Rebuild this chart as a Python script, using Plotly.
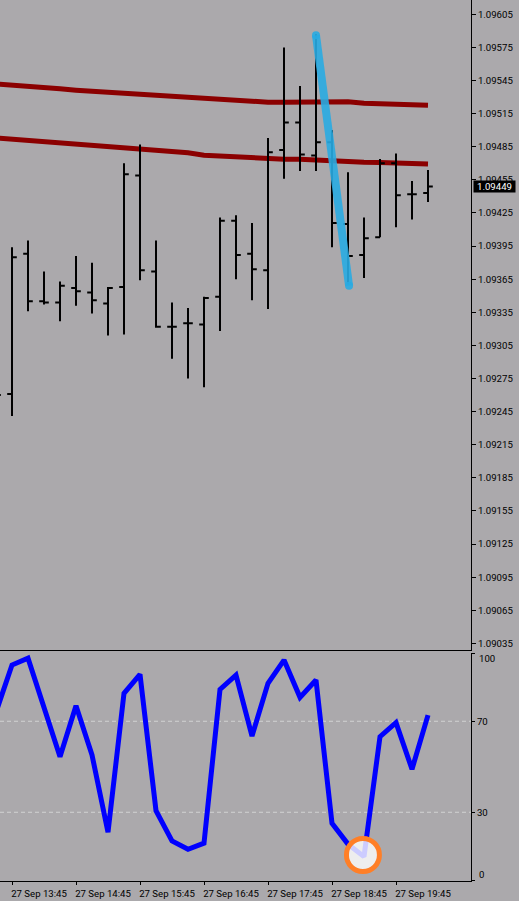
import pandas as pd
import plotly.graph_objects as go

BASE = 1.09
times = pd.date_range("2019-09-27 13:30", periods=28, freq="15min")
open_pts = [290, 261, 388, 345, 344, 357, 353, 343, 358, 459, 372, 322, 325, 324, 349, 418, 388, 373, 482, 507, 477, 489, 415, 387, 403, 470, 442, 443]
high_pts = [300, 394, 400, 372, 363, 386, 380, 358, 470, 487, 400, 344, 339, 349, 421, 423, 416, 493, 575, 540, 587, 500, 462, 421, 474, 479, 454, 464]
low_pts = [250, 241, 336, 342, 327, 341, 334, 314, 315, 364, 321, 293, 275, 267, 318, 365, 346, 338, 456, 463, 463, 394, 360, 366, 403, 412, 419, 435]
close_pts = [260, 385, 345, 344, 359, 354, 346, 357, 460, 373, 322, 322, 325, 348, 418, 387, 374, 480, 507, 478, 489, 416, 386, 402, 470, 441, 442, 449]
ma_slow_pts = [542.0, 541.1, 539.9, 539.0, 537.5, 536.3, 535.4, 533.8, 533.6, 532.7, 531.8, 530.9, 529.0, 528.1, 527.2, 526.3, 525.4, 525.4, 525.4, 525.4, 526.3, 526.3, 525.7, 524.5, 524.3, 523.6, 523.4, 522.7]
ma_fast_pts = [493.1, 491.9, 491.0, 490.1, 489.4, 487.9, 486.5, 485.2, 483.7, 482.8, 481.9, 481.0, 479.5, 477.4, 476.5, 475.6, 474.7, 473.8, 473.8, 473.8, 472.9, 472.2, 471.6, 471.0, 470.7, 470.1, 470.0, 469.3]
rsi = [74, 94.7, 97.7, 76.4, 54.4, 76.8, 55.2, 21.2, 82.3, 90.6, 30.7, 17.4, 13.7, 16.4, 84, 90.3, 63.5, 86.7, 96.9, 80.5, 88.1, 25.1, 16, 10.5, 63.2, 69.4, 48.9, 72.7]
stroke_times = ["2019-09-27 18:30", "2019-09-27 19:01"]
stroke_pts = [586, 359]
circle_time = ["2019-09-27 19:14"]
circle_value = [11.2]
levels = [70, 30]
price_ticks = [1.09035 + 0.0003 * i for i in range(20)]
time_ticks = pd.date_range("2019-09-27 13:45", periods=7, freq="60min")
last_price = 1.09449


def px(points):
    return [BASE + p * 1e-5 for p in points]


BG = "#ABA9AC"
W, H = 519, 901
FONT = dict(family="Roboto, Liberation Sans, sans-serif", size=9.6, color="#000000")
x_range = ["2019-09-27 13:33:45", "2019-09-27 20:55:19"]

fig = go.Figure()
# moving averages under the bars
for vals in (ma_slow_pts, ma_fast_pts):
    fig.add_trace(go.Scatter(x=times, y=px(vals), mode="lines", xaxis="x", yaxis="y",
                             line=dict(color="#8B0000", width=5), showlegend=False))
fig.add_trace(go.Ohlc(x=times, open=px(open_pts), high=px(high_pts), low=px(low_pts), close=px(close_pts),
                      xaxis="x", yaxis="y3", tickwidth=0.3,
                      increasing=dict(line=dict(color="#000000", width=2)),
                      decreasing=dict(line=dict(color="#000000", width=2)), showlegend=False))
fig.add_trace(go.Scatter(x=stroke_times, y=px(stroke_pts), mode="lines+markers", xaxis="x", yaxis="y3",
                         line=dict(color="rgba(41,171,226,0.9)", width=8),
                         marker=dict(size=8, color="rgba(41,171,226,0.9)"), showlegend=False))
for lv in levels:
    fig.add_trace(go.Scatter(x=x_range, y=[lv, lv], mode="lines", xaxis="x2", yaxis="y2",
                             line=dict(color="#D2D2D2", width=1, dash="4px,3px"), showlegend=False))
fig.add_trace(go.Scatter(x=times, y=rsi, mode="lines", xaxis="x2", yaxis="y2",
                         line=dict(color="#0000FF", width=5), showlegend=False))
fig.add_trace(go.Scatter(x=circle_time, y=circle_value, mode="markers", xaxis="x2", yaxis="y2",
                         marker=dict(size=33, color="rgba(255,255,255,0.8)",
                                     line=dict(color="#FF7F27", width=5)), showlegend=False))

yr = [1.09029, 1.09618]
price_axis = dict(domain=[1 - 650 / H, 1], range=yr, side="right", anchor="x", automargin=False,
                  tickmode="array", tickvals=price_ticks, tickformat=".5f", ticks="outside",
                  ticklen=4, tickcolor="#000", showgrid=False, zeroline=False, showline=True,
                  linecolor="#000", linewidth=1, tickfont=FONT)
fig.update_layout(
    width=W, height=H, margin=dict(l=0, r=0, t=0, b=0), autosize=False,
    paper_bgcolor=BG, plot_bgcolor=BG, showlegend=False,
    xaxis=dict(domain=[0, 471 / W], range=x_range, anchor="y", showticklabels=False, ticks="", automargin=False,
               showgrid=False, zeroline=False, rangeslider=dict(visible=False), showline=True,
               linecolor="#000", linewidth=1),
    xaxis2=dict(domain=[0, 471 / W], range=x_range, anchor="y2", tickmode="array", tickvals=list(time_ticks),
                tickformat="%d %b %H:%M", ticks="outside", ticklen=3, tickcolor="#000", showgrid=False, automargin=False,
                zeroline=False, showline=True, linecolor="#000", linewidth=1, tickfont=FONT, tickangle=0,
                ticklabelshift=27, ticklabelstandoff=1),
    yaxis=price_axis,
    yaxis3=dict(overlaying="y", range=yr, domain=price_axis["domain"], side="right", anchor="x", automargin=False,
                showticklabels=False, ticks="", showgrid=False, zeroline=False, showline=False),
    yaxis2=dict(domain=[1 - 880.5 / H, 1 - 653 / H], range=[0, 100], side="right", anchor="x2", automargin=False,
                tickmode="array", tickvals=[0, 30, 70, 100], ticktext=["", "30", "70", ""], ticks="outside",
                ticklen=3, tickcolor="#000", showgrid=False, zeroline=False, showline=True,
                linecolor="#000", linewidth=1, tickfont=FONT),
    annotations=[
        dict(xref="paper", yref="y", x=473 / W, y=last_price, text="1.09449", xanchor="left", yanchor="middle",
             width=41, height=11, align="center", showarrow=False, bgcolor="#000000",
             font=dict(FONT, color="#FFFFFF"), borderpad=0),
        dict(xref="paper", yref="paper", x=477 / W, y=1 - 658.5 / H, text="100", xanchor="left", yanchor="middle",
             showarrow=False, font=FONT),
        dict(xref="paper", yref="paper", x=477 / W, y=1 - 874.5 / H, text="0", xanchor="left", yanchor="middle",
             showarrow=False, font=FONT),
        dict(xref="paper", yref="paper", x=2 / W, y=1 - 890.5 / H, text="27 Sep 12:45", xanchor="right",
             yanchor="middle", showarrow=False, font=FONT),
    ],
)
fig.write_html("out.html", config=dict(displayModeBar=False),
               post_script="document.body.style.margin='0';document.body.style.background='%s';" % BG)
